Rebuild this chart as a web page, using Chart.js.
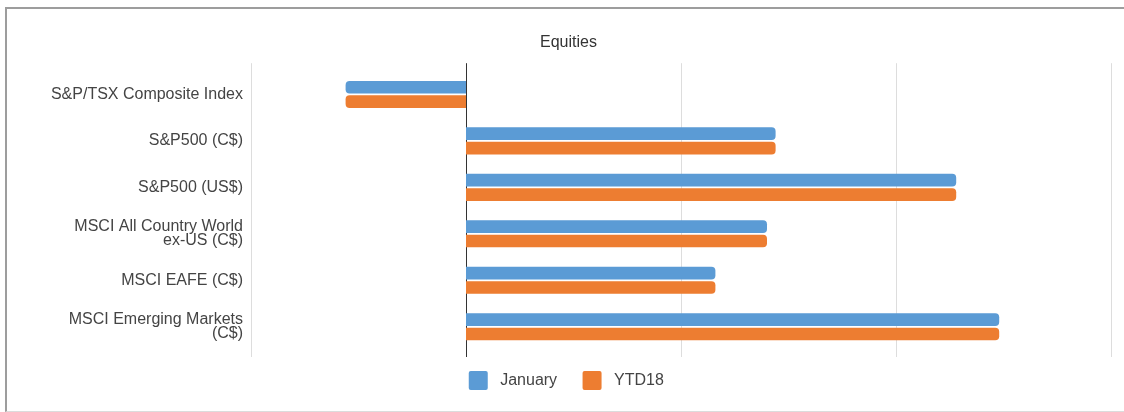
<!DOCTYPE html>
<html>
<head>
<meta charset="utf-8">
<title>Equities</title>
<script src="https://cdn.jsdelivr.net/npm/chart.js@4.4.1/dist/chart.umd.min.js"></script>
<style>
    html, body { margin: 0; padding: 0; background: #fff; overflow: hidden; }
    #frame {
        position: absolute; left: 5px; top: 7px; width: 1130px; height: 402px;
        border-top: 2px solid #9d9d9d; border-left: 2px solid #9d9d9d; border-bottom: 1px solid #dcdcdc;
    }
    #wrap { position: absolute; left: 0; top: 0; width: 1124px; height: 412px; }
</style>
</head>
<body>
<div id="frame"></div>
<div id="wrap"><canvas id="equities"></canvas></div>
<script>
    'use strict';

    // data (percent returns)
    const categories = [
        'S&P/TSX Composite Index',
        'S&P500 (C$)',
        'S&P500 (US$)',
        ['MSCI All Country World', 'ex-US (C$)'],
        'MSCI EAFE (C$)',
        ['MSCI Emerging Markets', '(C$)']
    ];
    const january = [-1.4, 3.6, 5.7, 3.5, 2.9, 6.2];
    const ytd18 = [-1.4, 3.6, 5.7, 3.5, 2.9, 6.2];
    const xTicks = [-2.5, 0, 2.5, 5, 7.5];

    const BLUE = '#5b9bd5';
    const ORANGE = '#ed7d31';
    const FONT = 'Liberation Sans';
    const PAD_LEFT = 26;

    // vertical grid lines, drawn a little past the category band like the original
    const gridPlugin = {
        id: 'extendedGrid',
        beforeDatasetsDraw(chart) {
            const { ctx, chartArea, scales } = chart;
            ctx.save();
            xTicks.forEach(v => {
                const x = Math.round(scales.x.getPixelForValue(v)) + 0.5;
                ctx.beginPath();
                ctx.strokeStyle = v === 0 ? '#333333' : '#dddddd';
                ctx.lineWidth = 1;
                ctx.moveTo(x, chartArea.top - 8);
                ctx.lineTo(x, chartArea.bottom + 7);
                ctx.stroke();
            });
            ctx.restore();
        }
    };

    const barStyle = { borderRadius: 4, borderSkipped: 'start', barPercentage: 0.88, categoryPercentage: 0.62 };

    new Chart(document.getElementById('equities').getContext('2d'), {
        type: 'bar',
        data: {
            labels: categories,
            datasets: [
                Object.assign({ label: 'January', data: january, backgroundColor: BLUE }, barStyle),
                Object.assign({ label: 'YTD18', data: ytd18, backgroundColor: ORANGE }, barStyle)
            ]
        },
        options: {
            indexAxis: 'y',
            responsive: true,
            maintainAspectRatio: false,
            animation: false,
            layout: { padding: { left: PAD_LEFT, right: 13, top: 33, bottom: 12 } },
            plugins: {
                title: {
                    display: true,
                    text: 'Equities',
                    color: '#333',
                    font: { size: 16, family: FONT, weight: 'normal' },
                    padding: { top: 0, bottom: 19 }
                },
                legend: {
                    display: true,
                    position: 'bottom',
                    labels: {
                        color: '#444',
                        font: { size: 16, family: FONT },
                        boxWidth: 19, boxHeight: 19,
                        useBorderRadius: true, borderRadius: 2,
                        padding: 21,
                        // a little air either side of the text, as in the original
                        generateLabels(chart) {
                            return Chart.defaults.plugins.legend.labels.generateLabels(chart)
                                .map(item => Object.assign(item, { text: ' ' + item.text + ' ' }));
                        }
                    }
                },
                tooltip: { enabled: false }
            },
            scales: {
                x: {
                    min: -2.5,
                    max: 7.5,
                    afterBuildTicks(scale) { scale.ticks = xTicks.map(v => ({ value: v })); },
                    ticks: { display: false },
                    grid: { display: false, drawTicks: false },
                    border: { display: false }
                },
                y: {
                    afterFit(scale) { scale.width = 251 - PAD_LEFT; },
                    ticks: {
                        color: '#444',
                        padding: 8,
                        font: { size: 16, family: FONT, lineHeight: 0.85 }
                    },
                    grid: { display: false, drawTicks: false },
                    border: { display: false }
                }
            }
        },
        plugins: [gridPlugin]
    });
</script>
</body>
</html>
